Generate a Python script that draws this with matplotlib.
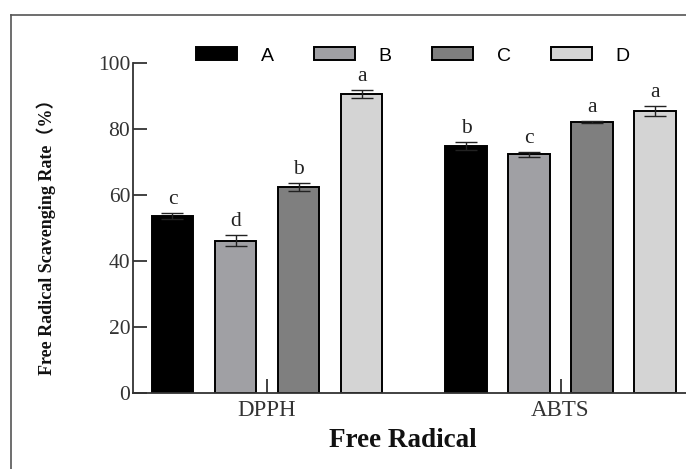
import numpy as np
import matplotlib
matplotlib.use("Agg")
import matplotlib.pyplot as plt
from matplotlib.lines import Line2D
from matplotlib.patches import Patch

# ---- data ----
groups = ["DPPH", "ABTS"]
treatments = ["A", "B", "C", "D"]
dpph_means = [53.7, 46.1, 62.4, 90.6]
dpph_err = [0.9, 1.7, 1.3, 1.3]
abts_means = [74.8, 72.3, 82.1, 85.4]
abts_err = [1.3, 0.8, 0.3, 1.6]
dpph_letters = ["c", "d", "b", "a"]
abts_letters = ["b", "c", "a", "a"]

colors = ["#000000", "#a0a0a4", "#7f7f7f", "#d4d4d4"]
SERIF = ["Liberation Serif", "Noto Sans CJK SC"]

W, H = 686, 469
fig = plt.figure(figsize=(W / 100, H / 100), dpi=100)
ax = fig.add_axes([133 / W, (H - 393) / H, 1 - 133 / W, 330 / H])

means = np.array([dpph_means, abts_means])   # [group, treatment]
errs = np.array([dpph_err, abts_err])
letters = [dpph_letters, abts_letters]

x = np.arange(len(groups))
step, width = 0.2147, 0.14
for i, t in enumerate(treatments):
    xs = x + (i - 1.5) * step
    ax.bar(xs, means[:, i], width, color=colors[i], edgecolor="black",
           linewidth=1.4, label=t, zorder=2)
    ax.errorbar(xs, means[:, i], yerr=errs[:, i], fmt="none", ecolor="#222222",
                elinewidth=1.0, capsize=8, capthick=1.0, zorder=3)
    for g in range(len(groups)):
        ax.annotate(letters[g][i], (xs[g], means[g, i] + errs[g, i]),
                    xytext=(0, 3), textcoords="offset points", ha="center",
                    va="bottom", fontsize=15.5, family=SERIF, color="#222222")

ax.set_xlim(-0.4566, 1.4276)
ax.set_ylim(0, 100)
ax.set_yticks([0, 20, 40, 60, 80, 100])
ax.set_xticks(x)
ax.set_xticklabels(groups)
for s in ["top", "right"]:
    ax.spines[s].set_visible(False)
for s in ["left", "bottom"]:
    ax.spines[s].set_color("#333333")
    ax.spines[s].set_linewidth(1.3)
ax.tick_params(axis="both", direction="in", length=10, width=1.3,
               color="#333333", labelsize=15.5, labelcolor="#333333")
ax.tick_params(axis="y", pad=2)
ax.tick_params(axis="x", pad=5, labelsize=16.5)
for lab in ax.get_xticklabels() + ax.get_yticklabels():
    lab.set_family(SERIF)

# legend across the top
handles = [Patch(facecolor=c, edgecolor="black", linewidth=1.4) for c in colors]
fig.legend(handles, treatments, loc="center", bbox_to_anchor=(413 / W, 1 - 56 / H),
           ncol=4, frameon=False, handlelength=2.1, handleheight=0.6,
           handletextpad=1.2, columnspacing=2.1,
           prop={"family": "Liberation Sans", "size": 14})

fig.text(46 / W, 1 - 233 / H, "Free Radical Scavenging Rate（%）", rotation=90,
         ha="center", va="center", fontsize=13, fontweight="bold", family=SERIF,
         color="#111111")
fig.text(403 / W, 1 - 440 / H, "Free Radical", ha="center", va="center",
         fontsize=19.5, fontweight="bold", family=SERIF, color="#111111")

# outer frame (partly cropped in the reference)
fig.add_artist(Line2D([11 / W, 11 / W], [0, 1 - 15 / H], transform=fig.transFigure,
                      color="#555555", linewidth=1.2))
fig.add_artist(Line2D([11 / W, 1], [1 - 15 / H, 1 - 15 / H], transform=fig.transFigure,
                      color="#555555", linewidth=1.2))

fig.savefig("out.png", dpi=100)
